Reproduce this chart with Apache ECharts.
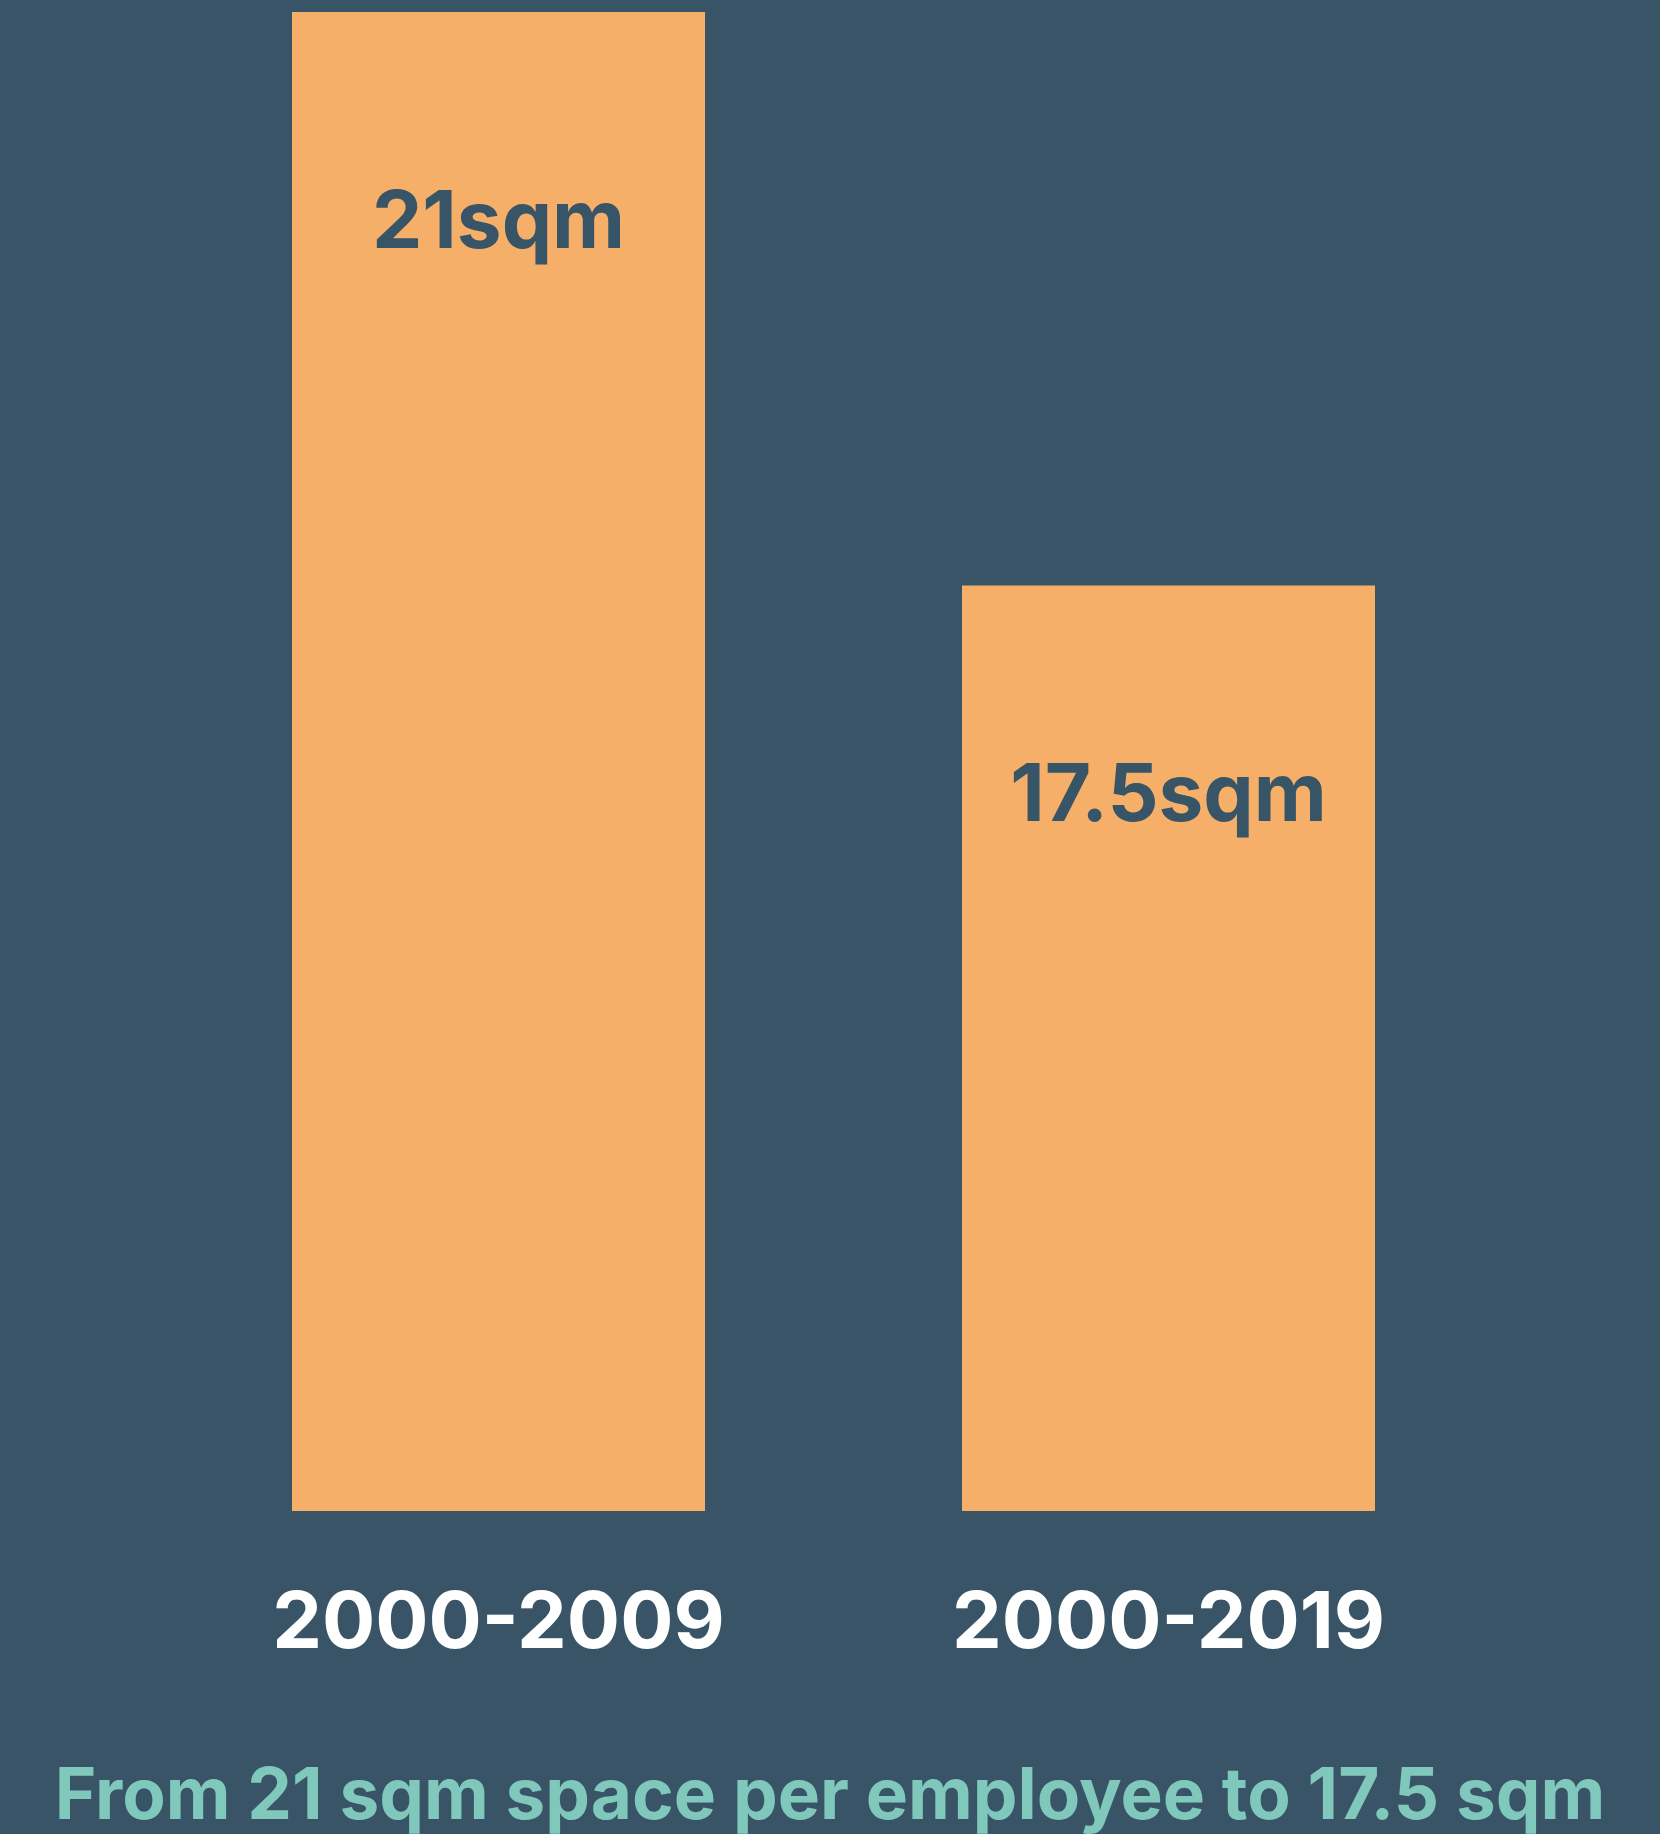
<!DOCTYPE html>
<html><head><meta charset="utf-8">
<script src="https://cdn.jsdelivr.net/npm/echarts@6/dist/echarts.min.js"></script>
<style>html,body{margin:0;padding:0;background:#395467;}#c{width:1660px;height:1834px;}</style>
</head><body><div id="c"></div>
<script>
const categories = ['2000-2009', '2000-2019'];
const values = [21, 17.5];
const valueLabels = ['21sqm', '17.5sqm'];
const subtitle = 'From 21 sqm space per employee to 17.5 sqm';

const FONT = 'Inter';
const chart = echarts.init(document.getElementById('c'));
chart.setOption({
  backgroundColor: '#395467',
  animation: false,
  title: {
    text: subtitle,
    left: 'center',
    top: 1757,
    textStyle: { color: '#80c8bb', fontFamily: FONT, fontWeight: 'bold', fontSize: 71 }
  },
  grid: { left: 163.5, right: 156.5, top: 12, bottom: 323 },
  xAxis: {
    type: 'category',
    data: categories,
    axisLine: { show: false },
    axisTick: { show: false },
    axisLabel: { color: '#ffffff', fontFamily: FONT, fontWeight: 'bold', fontSize: 79, margin: 74 }
  },
  yAxis: { type: 'value', min: 11.85, max: 21, show: false, splitLine: { show: false } },
  series: [{
    type: 'bar',
    data: values,
    barWidth: 413,
    itemStyle: { color: '#f6af69' },
    label: {
      show: true,
      position: 'insideTop',
      distance: 172,
      formatter: p => valueLabels[p.dataIndex],
      color: '#385467',
      fontFamily: FONT,
      fontWeight: 'bold',
      fontSize: 80
    }
  }]
});
</script></body></html>
